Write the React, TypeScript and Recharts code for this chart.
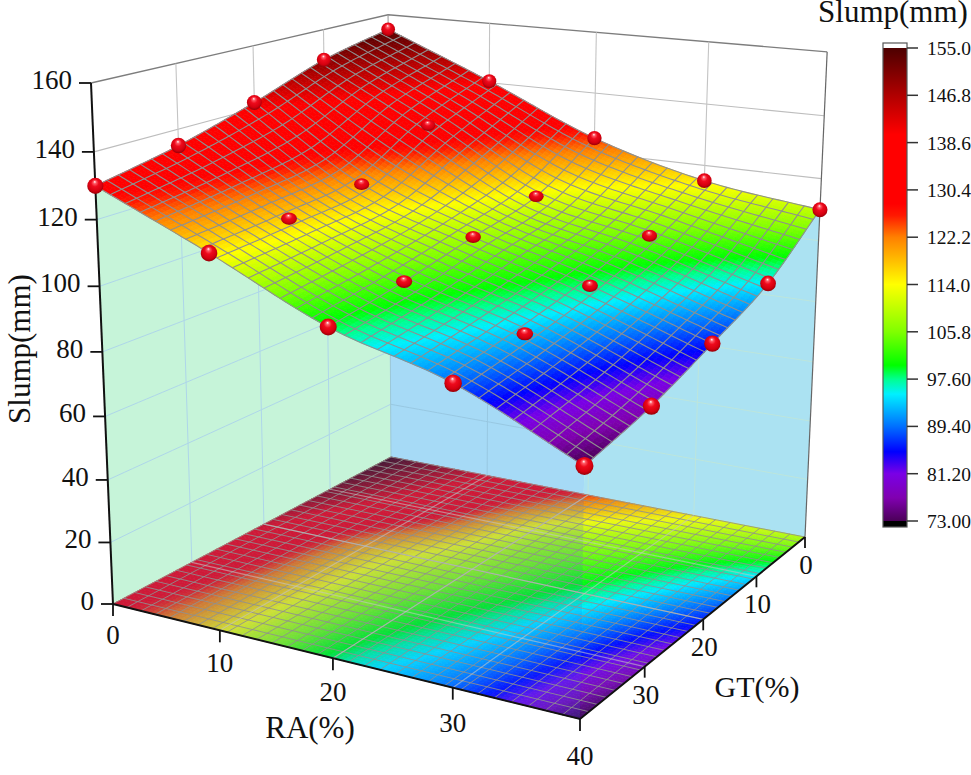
import React from "react";
import { ScatterChart, Scatter, XAxis, YAxis } from "recharts";

const W = 971;
const H = 775;
const SERIF = "'Liberation Serif', serif";

const raLevels = [0, 10, 20, 30, 40];
const gtLevels = [0, 10, 20, 30, 40];
const slumpGt0 = [155, 140.5, 125, 115, 110];
const slumpGt10 = [150, 132, 113, 105, 95];
const slumpGt20 = [142, 120, 108, 98, 86];
const slumpGt30 = [135, 117, 103, 93, 78];
const slumpGt40 = [130, 115, 99, 89, 72.5];
const slumpRows = [slumpGt0, slumpGt10, slumpGt20, slumpGt30, slumpGt40];

const zTicks = [0, 20, 40, 60, 80, 100, 120, 140, 160];
const raTicks = [0, 10, 20, 30, 40];
const gtTicks = [0, 10, 20, 30];
const colorbarLabels = ["155.0", "146.8", "138.6", "130.4", "122.2", "114.0", "105.8", "97.60", "89.40", "81.20", "73.00"];

const colorStops: [number, number[]][] = [
  [73, [75, 0, 88]],
  [77, [128, 0, 176]],
  [81.2, [122, 0, 230]],
  [85, [0, 0, 255]],
  [89.4, [0, 112, 255]],
  [95, [0, 240, 255]],
  [97.6, [0, 255, 144]],
  [100, [0, 255, 0]],
  [105.8, [128, 255, 0]],
  [114, [255, 255, 0]],
  [118, [255, 192, 0]],
  [122.2, [255, 128, 0]],
  [126, [255, 24, 0]],
  [128, [255, 0, 0]],
  [140, [255, 0, 0]],
  [146.8, [176, 0, 0]],
  [155, [77, 0, 0]],
];

function colorOf(v: number) {
  if (v <= colorStops[0][0]) return `rgb(${colorStops[0][1].join(",")})`;
  for (let i = 1; i < colorStops.length; i++) {
    const [b, cb] = colorStops[i];
    if (v <= b) {
      const [a, ca] = colorStops[i - 1];
      const t = (v - a) / (b - a);
      return `rgb(${ca.map((c, k) => Math.round(c + (cb[k] - c) * t)).join(",")})`;
    }
  }
  return "rgb(77,0,0)";
}

// box camera: floor corners + vanishing point of the verticals
const c00 = [391, 457];
const c10 = [805, 537];
const c11 = [580, 719];
const c01 = [113, 604];
const vertVp = [444, 8440];

const dx1 = c10[0] - c11[0];
const dx2 = c01[0] - c11[0];
const sx0 = c00[0] - c10[0] + c11[0] - c01[0];
const dy1 = c10[1] - c11[1];
const dy2 = c01[1] - c11[1];
const sy0 = c00[1] - c10[1] + c11[1] - c01[1];
const den = dx1 * dy2 - dx2 * dy1;
const hg = (sx0 * dy2 - dx2 * sy0) / den;
const hh = (dx1 * sy0 - sx0 * dy1) / den;
const ha = c10[0] - c00[0] + hg * c10[0];
const hb = c01[0] - c00[0] + hh * c01[0];
const hd = c10[1] - c00[1] + hg * c10[1];
const he = c01[1] - c00[1] + hh * c01[1];
// z=160 on the left axis lands at y=83
const qz = (((1 + hh) * (83 - c01[1])) / (vertVp[1] - 83)) / 160;

function proj(ra: number, gt: number, z: number): [number, number] {
  const u = ra / 40;
  const v = gt / 40;
  const w = hg * u + hh * v + 1 + qz * z;
  return [
    (ha * u + hb * v + c00[0] + qz * z * vertVp[0]) / w,
    (hd * u + he * v + c00[1] + qz * z * vertVp[1]) / w,
  ];
}

function catmull(p: number[], t: number) {
  const i = Math.min(Math.floor(t), p.length - 2);
  const f = t - i;
  const p1 = p[i];
  const p2 = p[i + 1];
  const p0 = i > 0 ? p[i - 1] : 2 * p1 - p2;
  const p3 = i + 2 < p.length ? p[i + 2] : 2 * p2 - p1;
  return 0.5 * (2 * p1 + (p2 - p0) * f + (2 * p0 - 5 * p1 + 4 * p2 - p3) * f * f + (3 * p1 - p0 - 3 * p2 + p3) * f * f * f);
}

// smooth patch through the 25 readings, only used to draw the mesh
function surf(ra: number, gt: number) {
  return catmull(slumpRows.map((row) => catmull(row, ra / 10)), gt / 10);
}

type Pt = [number, number];
const mark = (pts: Pt[], style: Record<string, unknown>) => ({ sx: pts[0]?.[0] ?? 0, sy: pts[0]?.[1] ?? 0, pts, ...style });

function range(a: number, b: number, n: number) {
  return Array.from({ length: n + 1 }, (_, i) => a + ((b - a) * i) / n);
}

const FILL_N = 90;
const MESH_N = 30;
const SPLIT_RA = 19.6;

const surfaceCells: any[] = [];
const floorCells: any[] = [];
for (let j = 0; j < FILL_N; j++) {
  for (let i = 0; i < FILL_N; i++) {
    const a0 = (i / FILL_N) * 40;
    const a1 = ((i + 1) / FILL_N) * 40;
    const b0 = (j / FILL_N) * 40;
    const b1 = ((j + 1) / FILL_N) * 40;
    const fill = colorOf(surf((a0 + a1) / 2, (b0 + b1) / 2));
    surfaceCells.push(
      mark([proj(a0, b0, surf(a0, b0)), proj(a1, b0, surf(a1, b0)), proj(a1, b1, surf(a1, b1)), proj(a0, b1, surf(a0, b1))], { fill, stroke: fill, sw: 0.7 })
    );
    floorCells.push(mark([proj(a0, b0, 0), proj(a1, b0, 0), proj(a1, b1, 0), proj(a0, b1, 0)], { fill, stroke: fill, sw: 0.7 }));
  }
}

const meshSteps = range(0, 40, MESH_N);
const fineSteps = range(0, 40, FILL_N);
const surfaceMesh = [
  ...meshSteps.map((g) => mark(fineSteps.map((a) => proj(a, g, surf(a, g))), { stroke: "#8f8f8f", sw: 1.1 })),
  ...meshSteps.map((a) => mark(fineSteps.map((g) => proj(a, g, surf(a, g))), { stroke: "#8f8f8f", sw: 1.1 })),
];
const floorMesh = [
  ...meshSteps.map((g) => mark([proj(0, g, 0), proj(40, g, 0)], { stroke: "#8f8f8f", sw: 1, op: 0.85 })),
  ...meshSteps.map((a) => mark([proj(a, 0, 0), proj(a, 40, 0)], { stroke: "#8f8f8f", sw: 1, op: 0.85 })),
];
const innerLevels = [10, 20, 30];
const floorGrid = [
  ...innerLevels.map((g) => mark([proj(0, g, 0), proj(40, g, 0)], { stroke: "#c4c4c4", sw: 1.2, op: 0.6 })),
  ...innerLevels.map((a) => mark([proj(a, 0, 0), proj(a, 40, 0)], { stroke: "#c4c4c4", sw: 1.2, op: 0.6 })),
];

// wall lines on white
const greyGrid = [
  ...zTicks.filter((z) => z > 0).map((z) => mark([proj(0, 40, z), proj(0, 0, z), proj(40, 0, z)], { stroke: z === 160 ? "#7d7d7d" : "#bdbdbd", sw: z === 160 ? 1.3 : 1.1 })),
  ...innerLevels.map((g) => mark([proj(0, g, 0), proj(0, g, 160)], { stroke: "#c4c4c4", sw: 1.1 })),
  ...innerLevels.map((a) => mark([proj(a, 0, 0), proj(a, 0, 160)], { stroke: "#c4c4c4", sw: 1.1 })),
  mark([proj(0, 0, 0), proj(0, 0, 160)], { stroke: "#a0a0a0", sw: 1.1 }),
];

const leftEdge = range(0, 40, 40).map((g) => proj(0, g, surf(0, g)));
const backSplit = range(0, SPLIT_RA, 20).map((a) => proj(a, 0, surf(a, 0)));
const backRest = range(SPLIT_RA, 40, 20).map((a) => proj(a, 0, surf(a, 0)));
const walls = [
  mark([...leftEdge, proj(0, 40, 0), proj(0, 0, 0)], { fill: "#c6f4d9" }),
  mark([...backSplit, proj(SPLIT_RA, 0, 0), proj(0, 0, 0)], { fill: "#a6daf6" }),
  mark([...backRest, proj(40, 0, 0), proj(SPLIT_RA, 0, 0)], { fill: "#abe2f2" }),
];

// wall lines below the surface edge
function underPieces(ra0: number, ra1: number, gt0: number, gt1: number, z: number) {
  const pts: Pt[] = [];
  range(0, 1, 40).forEach((t) => {
    const ra = ra0 + (ra1 - ra0) * t;
    const gt = gt0 + (gt1 - gt0) * t;
    if (z <= surf(ra, gt)) pts.push(proj(ra, gt, z));
  });
  return pts;
}
const midLevels = zTicks.filter((z) => z > 0 && z < 160);
const tintGrid = [
  ...midLevels.map((z) => mark(underPieces(0, 0, 0, 40, z), { stroke: "#aed6ea", sw: 1 })),
  ...midLevels.map((z) => mark(underPieces(0, SPLIT_RA, 0, 0, z), { stroke: "#98c8e2", sw: 1 })),
  ...midLevels.map((z) => mark(underPieces(SPLIT_RA, 40, 0, 0, z), { stroke: "#bde6dc", sw: 1 })),
  ...innerLevels.map((g) => mark([proj(0, g, 0), proj(0, g, surf(0, g))], { stroke: "#aed6ea", sw: 1 })),
  mark([proj(10, 0, 0), proj(10, 0, surf(10, 0))], { stroke: "#98c8e2", sw: 1 }),
  ...[20, 30].map((a) => mark([proj(a, 0, 0), proj(a, 0, surf(a, 0))], { stroke: "#bde6dc", sw: 1 })),
  mark([proj(0, 0, 0), proj(0, 0, surf(0, 0))], { stroke: "#9cc8d8", sw: 1 }),
];

const floorTint = [
  mark([proj(0, 0, 0), proj(SPLIT_RA, 0, 0), proj(40, 40, 0), proj(0, 40, 0)], { fill: "rgb(30,115,250)", op: 0.22, sw: 0 }),
  mark([proj(SPLIT_RA, 0, 0), proj(40, 0, 0), proj(40, 40, 0)], { fill: "rgb(30,180,250)", op: 0.08, sw: 0 }),
];

const axisLines = [
  mark([proj(0, 40, 160), proj(0, 40, 0)], { stroke: "#111", sw: 2 }),
  mark([proj(0, 40, 0), proj(40, 40, 0), proj(40, 0, 0)], { stroke: "#111", sw: 2 }),
  mark([proj(40, 0, 0), proj(40, 0, 160)], { stroke: "#666", sw: 1.2 }),
];

const zTickRows = zTicks.map((z) => {
  const [x, y] = proj(0, 40, z);
  return { sx: x, sy: y, dx: -12, dy: 0, label: String(z) };
});
const raTickRows = raTicks.map((ra) => {
  const [x, y] = proj(ra, 40, 0);
  return { sx: x, sy: y, dx: 0, dy: 12, label: String(ra) };
});
const gtTickRows = gtTicks.map((gt) => {
  const [x, y] = proj(40, gt, 0);
  return { sx: x, sy: y, dx: 0, dy: 11, label: String(gt) };
});

const spheres = gtLevels.flatMap((gt, j) =>
  raLevels.map((ra, i) => {
    const z = slumpRows[j][i];
    const [x, y] = proj(ra, gt, z);
    const span = proj(ra, gt, 0)[1] - proj(ra, gt, 160)[1];
    const inner = ra > 0 && ra < 40 && gt > 0 && gt < 40;
    return { sx: x, sy: y, r: span * 0.0155, squash: inner ? 0.78 : 1 };
  })
);

const barTop = 48;
const barBottom = 521;
const barY = (v: number) => barTop + ((155 - v) * (barBottom - barTop)) / 82;
const barTickRows = colorbarLabels.map((label) => ({ sx: 907, sy: barY(parseFloat(label)), label }));
const barStops = [...colorStops].reverse().map(([v, c]) => ({ offset: (155 - v) / 82, color: `rgb(${c.join(",")})` }));

const axisTitles = [
  { sx: 310, sy: 738, text: "RA(%)", size: 31 },
  { sx: 757, sy: 697, text: "GT(%)", size: 30 },
  { sx: 893, sy: 22, text: "Slump(mm)", size: 31 },
];

function PolyShape(p: any) {
  const d = p.payload;
  const points = d.pts.map((q: Pt) => `${(p.cx + q[0] - d.sx).toFixed(2)},${(p.cy + q[1] - d.sy).toFixed(2)}`).join(" ");
  if (d.fill) {
    return <polygon points={points} fill={d.fill} fillOpacity={d.op ?? 1} stroke={d.stroke ?? "none"} strokeWidth={d.sw ?? 0} />;
  }
  return <polyline points={points} fill="none" stroke={d.stroke} strokeWidth={d.sw} strokeOpacity={d.op ?? 1} />;
}

function TickShape(p: any) {
  const d = p.payload;
  return <line x1={p.cx} y1={p.cy} x2={p.cx + d.dx} y2={p.cy + d.dy} stroke="#111" strokeWidth={1.8} />;
}

function ZLabel(p: any) {
  return (
    <text x={p.cx - 19} y={p.cy + 6} textAnchor="end" fontFamily={SERIF} fontSize={27} fill="#111">
      {p.payload.label}
    </text>
  );
}

function FloorLabel(p: any) {
  const d = p.payload;
  const drop = Number(d.label) * 0.15 + 40;
  return (
    <text x={p.cx} y={p.cy + drop} textAnchor="middle" fontFamily={SERIF} fontSize={27} fill="#111">
      {d.label}
    </text>
  );
}

function GtLabel(p: any) {
  return (
    <text x={p.cx + 1} y={p.cy + 37} textAnchor="middle" fontFamily={SERIF} fontSize={27} fill="#111">
      {p.payload.label}
    </text>
  );
}

function Sphere(p: any) {
  const d = p.payload;
  return <ellipse cx={p.cx} cy={p.cy} rx={d.r} ry={d.r * d.squash} fill="url(#sphere)" />;
}

function TitleShape(p: any) {
  const d = p.payload;
  return (
    <text x={p.cx} y={p.cy} textAnchor="middle" fontFamily={SERIF} fontSize={d.size} fill="#111">
      {d.text}
    </text>
  );
}

function YTitle(p: any) {
  return (
    <text x={p.cx} y={p.cy} transform={`rotate(-90 ${p.cx} ${p.cy})`} textAnchor="middle" fontFamily={SERIF} fontSize={31} fill="#111">
      Slump(mm)
    </text>
  );
}

function BarShape(p: any) {
  return (
    <g>
      <rect x={p.cx - 12} y={43} width={24} height={5} fill="#fff" />
      <rect x={p.cx - 12} y={p.cy} width={24} height={barBottom - barTop} fill="url(#cbar)" />
      <rect x={p.cx - 12} y={barBottom} width={24} height={6} fill="#000" />
      <rect x={p.cx - 12} y={43} width={24} height={484} fill="none" stroke="#555" strokeWidth={1.2} />
    </g>
  );
}

function BarTick(p: any) {
  return (
    <g>
      <line x1={p.cx} y1={p.cy} x2={p.cx + 11} y2={p.cy} stroke="#333" strokeWidth={1.5} />
      <text x={p.cx + 20} y={p.cy + 7} fontFamily={SERIF} fontSize={19.5} fill="#111">
        {p.payload.label}
      </text>
    </g>
  );
}

const layer = (data: any[], shape: any) => <Scatter data={data} shape={shape} isAnimationActive={false} legendType="none" />;

export default function App() {
  return (
    <div style={{ position: "fixed", left: 0, top: 0, width: W, height: H, background: "#fff" }}>
      <ScatterChart width={W} height={H} margin={{ top: 0, right: 0, bottom: 0, left: 0 }}>
        <defs>
          <radialGradient id="sphere" cx="50%" cy="45%" r="58%" fx="46%" fy="24%">
            <stop offset="0%" stopColor="#ffffff" />
            <stop offset="16%" stopColor="#ff5a66" />
            <stop offset="40%" stopColor="#ee0a1c" />
            <stop offset="75%" stopColor="#d4000f" />
            <stop offset="100%" stopColor="#8a0006" />
          </radialGradient>
          <linearGradient id="cbar" x1="0" y1="0" x2="0" y2="1">
            {barStops.map((s) => (
              <stop key={s.offset} offset={s.offset} stopColor={s.color} />
            ))}
          </linearGradient>
        </defs>
        <XAxis type="number" dataKey="sx" domain={[0, W]} hide />
        <YAxis type="number" dataKey="sy" domain={[0, H]} reversed hide />
        {layer(greyGrid, PolyShape)}
        {layer(walls, PolyShape)}
        {layer(tintGrid.filter((m) => m.pts.length > 1), PolyShape)}
        {layer(floorCells, PolyShape)}
        {layer(floorTint, PolyShape)}
        {layer(floorMesh, PolyShape)}
        {layer(floorGrid, PolyShape)}
        {layer(axisLines, PolyShape)}
        {layer(zTickRows, TickShape)}
        {layer(raTickRows, TickShape)}
        {layer(gtTickRows, TickShape)}
        {layer(surfaceCells, PolyShape)}
        {layer(surfaceMesh, PolyShape)}
        {layer(spheres, Sphere)}
        {layer(zTickRows, ZLabel)}
        {layer(raTickRows, FloorLabel)}
        {layer(gtTickRows, GtLabel)}
        {layer(axisTitles, TitleShape)}
        {layer([{ sx: 30, sy: 349 }], YTitle)}
        {layer([{ sx: 895, sy: barTop }], BarShape)}
        {layer(barTickRows, BarTick)}
      </ScatterChart>
    </div>
  );
}
